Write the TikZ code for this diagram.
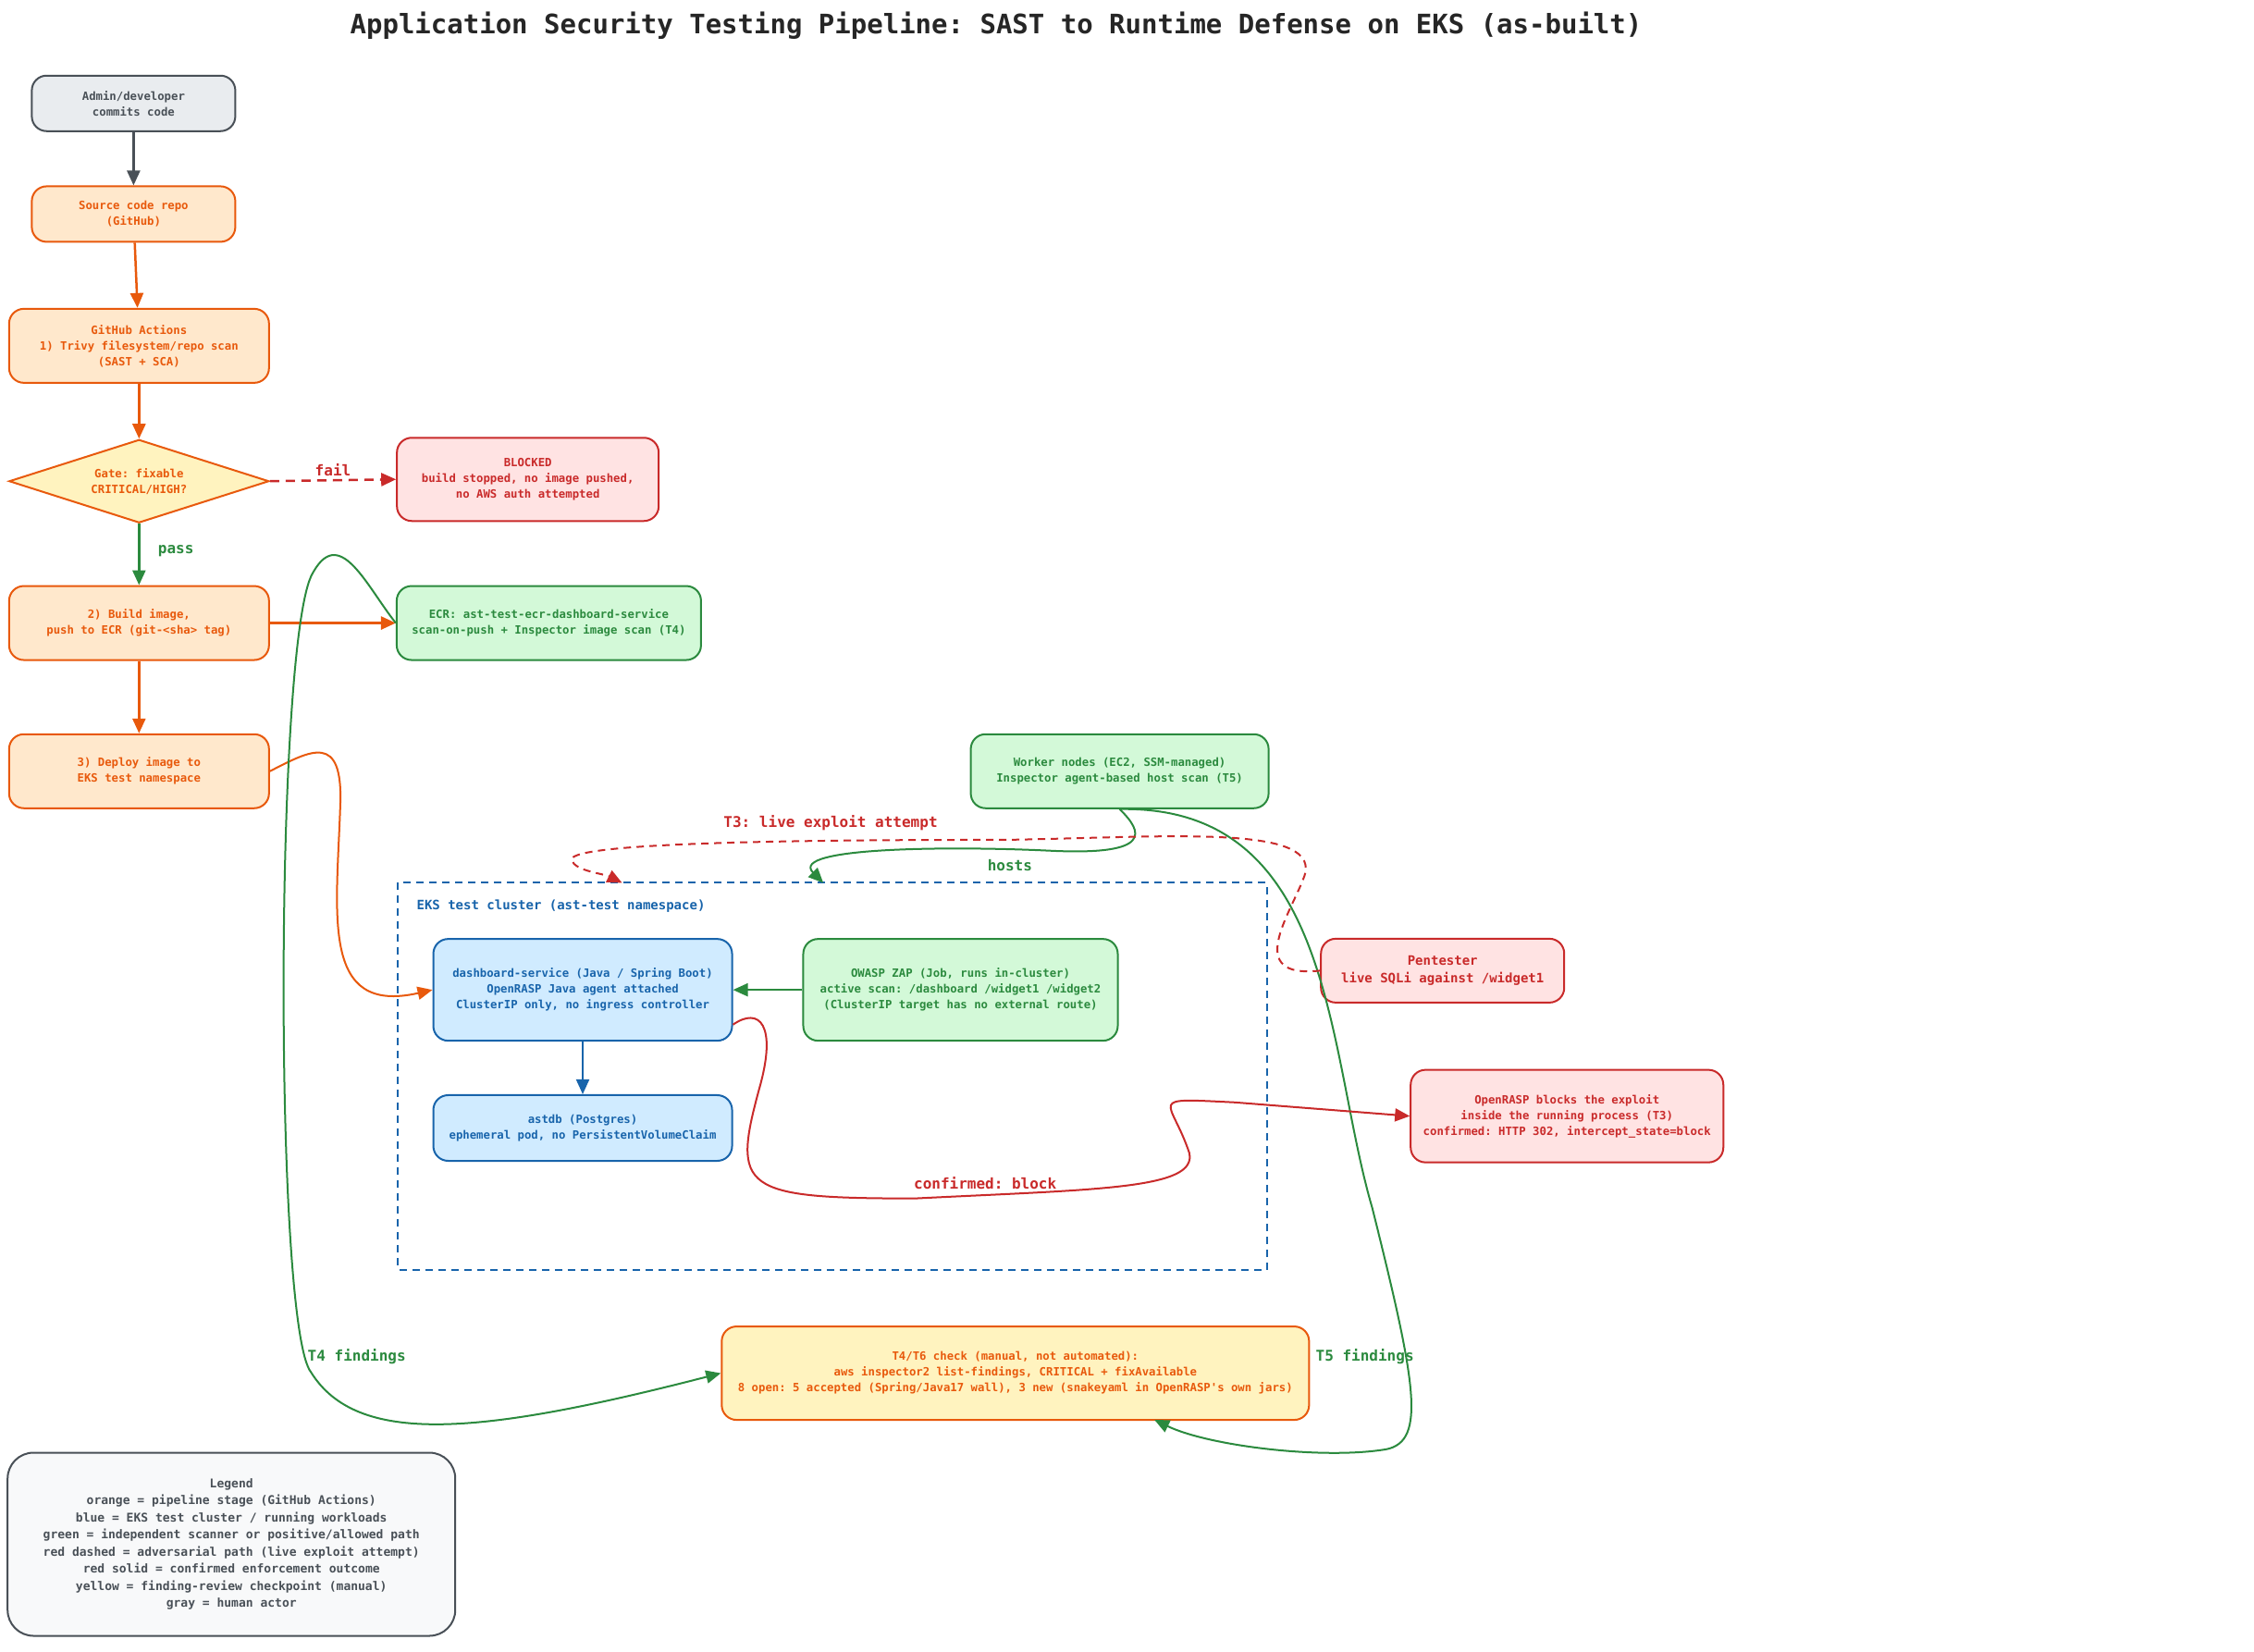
\documentclass[tikz,border=0pt]{standalone}
\usepackage{fontspec}
\setmonofont{DejaVu Sans Mono}
\usetikzlibrary{arrows.meta,shapes.geometric}
\definecolor{oS}{HTML}{E8590C}\definecolor{oF}{HTML}{FFE8CC}
\definecolor{gS}{HTML}{495057}\definecolor{gF}{HTML}{E9ECEF}
\definecolor{rS}{HTML}{C92A2A}\definecolor{rF}{HTML}{FFE3E3}
\definecolor{nS}{HTML}{2B8A3E}\definecolor{nF}{HTML}{D3F9D8}
\definecolor{bS}{HTML}{1864AB}\definecolor{bF}{HTML}{D0EBFF}
\definecolor{yF}{HTML}{FFF3BF}\definecolor{lF}{HTML}{F8F9FA}
\begin{document}
\begin{tikzpicture}[x=0.989pt,y=-0.989pt,
 box/.style={draw,line width=2pt,rounded corners=16pt,align=center,inner sep=2pt,
   font=\ttfamily\bfseries\fontsize{12.3}{17}\selectfont},
 org/.style={box,draw=oS,fill=oF,text=oS},
 gry/.style={box,draw=gS,fill=gF,text=gS},
 red/.style={box,draw=rS,fill=rF,text=rS},
 grn/.style={box,draw=nS,fill=nF,text=nS},
 blu/.style={box,draw=bS,fill=bF,text=bS},
 arr/.style={line width=2.5pt,-{Triangle[length=16pt,width=14pt]}},
 carr/.style={line width=2pt,-{Triangle[length=16pt,width=14pt]}},
 lbl/.style={font=\ttfamily\bfseries\fontsize{16}{18}\selectfont}]
\useasboundingbox[fill=white] (0,0) rectangle (2464,1805);
\node[font=\ttfamily\bfseries\fontsize{29}{32}\selectfont,text=black!85] (title) at (1089,28) {Application Security Testing Pipeline: SAST to Runtime Defense on EKS (as-built)};

\node[gry,minimum width=220pt,minimum height=60pt] (admin) at (146,113) {Admin/developer\\commits code};
\node[org,minimum width=220pt,minimum height=60pt] (src) at (146,234) {Source code repo\\(GitHub)};
\node[org,minimum width=281pt,minimum height=80pt] (gha) at (152,378) {GitHub Actions\\1) Trivy filesystem/repo scan\\(SAST + SCA)};
\node[draw=oS,fill=yF,text=oS,line width=2pt,diamond,aspect=3.1,minimum width=281pt,minimum height=90pt,inner sep=0pt,align=center,font=\ttfamily\bfseries\fontsize{12.3}{17}\selectfont] (gate) at (152,526) {Gate: fixable\\CRITICAL/HIGH?};
\node[red,minimum width=283pt,minimum height=90pt] (blk) at (577,524) {BLOCKED\\build stopped, no image pushed,\\no AWS auth attempted};
\node[org,minimum width=281pt,minimum height=80pt] (build) at (152,681) {2) Build image,\\push to ECR (git-<sha> tag)};
\node[grn,minimum width=329pt,minimum height=80pt] (ecr) at (600,681) {ECR: ast-test-ecr-dashboard-service\\scan-on-push + Inspector image scan (T4)};
\node[org,minimum width=281pt,minimum height=80pt] (dep) at (152,843) {3) Deploy image to\\EKS test namespace};
\node[grn,minimum width=322pt,minimum height=80pt] (wrk) at (1224,843) {Worker nodes (EC2, SSM-managed)\\Inspector agent-based host scan (T5)};

\draw[bS,line width=2pt,dash pattern=on 8pt off 6pt] (435,965) rectangle (1385,1388);
\node[coordinate] (cl1) at (680,965) {};
\node[coordinate] (cl2) at (900,965) {};
\node[anchor=west,text=bS,font=\ttfamily\bfseries\fontsize{14}{16}\selectfont] (cllbl) at (452,990) {EKS test cluster (ast-test namespace)};

\node[blu,minimum width=323pt,minimum height=110pt] (dash) at (637,1082) {dashboard-service (Java / Spring Boot)\\OpenRASP Java agent attached\\ClusterIP only, no ingress controller};
\node[grn,minimum width=340pt,minimum height=110pt] (zap) at (1050,1082) {OWASP ZAP (Job, runs in-cluster)\\active scan: /dashboard /widget1 /widget2\\(ClusterIP target has no external route)};
\node[blu,minimum width=323pt,minimum height=71pt] (db) at (637,1233) {astdb (Postgres)\\ephemeral pod, no PersistentVolumeClaim};
\node[red,minimum width=263pt,minimum height=69pt,font=\ttfamily\bfseries\fontsize{14}{19}\selectfont] (pen) at (1577,1061) {Pentester\\live SQLi against /widget1};
\node[red,minimum width=338pt,minimum height=100pt] (rasp) at (1713,1220) {OpenRASP blocks the exploit\\inside the running process (T3)\\confirmed: HTTP 302, intercept\_state=block};
\node[box,draw=oS,fill=yF,text=oS,minimum width=635pt,minimum height=101pt] (chk) at (1110,1501) {T4/T6 check (manual, not automated):\\aws inspector2 list-findings, CRITICAL + fixAvailable\\8 open: 5 accepted (Spring/Java17 wall), 3 new (snakeyaml in OpenRASP's own jars)};
\node[box,draw=gS,fill=lF,text=gS,minimum width=484pt,minimum height=198pt,rounded corners=28pt,font=\ttfamily\bfseries\fontsize{13}{18.5}\selectfont] (leg) at (253,1688) {Legend\\orange = pipeline stage (GitHub Actions)\\blue = EKS test cluster / running workloads\\green = independent scanner or positive/allowed path\\red dashed = adversarial path (live exploit attempt)\\red solid = confirmed enforcement outcome\\yellow = finding-review checkpoint (manual)\\gray = human actor};

\draw[arr,gS] (admin) -- (src);
\draw[arr,oS] (src) -- (gha);
\draw[arr,oS] (gha) -- (gate);
\draw[arr,rS,dash pattern=on 10pt off 7pt] (gate.east) -- node[above,lbl,text=rS]{fail} (blk.west);
\draw[arr,nS] (gate.south) -- node[right,lbl,pos=0.45,xshift=16pt]{pass} (build.north);
\draw[arr,oS] (build) -- (ecr);
\draw[arr,oS] (build) -- (dep);
\draw[carr,oS] (dep.east) .. controls (340,820) and (375,800) .. (372,880) .. controls (368,1000) and (350,1110) .. (dash.west);
\draw[carr,nS] (zap) -- (dash);
\draw[carr,bS] (dash) -- (db);
% T4 findings
\draw[carr,nS] (ecr.west) .. controls (400,640) and (370,570) .. (340,630) .. controls (300,720) and (300,1450) .. (340,1500) .. controls (390,1580) and (520,1570) .. (chk.west);
\node[lbl,text=nS] (t4l) at (390,1483) {T4 findings};
% T5 findings
\draw[carr,nS] (wrk.south) .. controls (1460,880) and (1450,1150) .. (1500,1320) .. controls (1550,1520) and (1560,1580) .. (1510,1585) .. controls (1440,1595) and (1320,1580) .. (1262,1552);
\node[lbl,text=nS] (t5l) at (1492,1483) {T5 findings};
% hosts
\draw[carr,nS] (wrk.south) .. controls (1250,910) and (1260,935) .. (1150,930) .. controls (1050,925) and (860,925) .. (cl2);
\node[lbl,text=nS] (hl) at (1104,946) {hosts};
% T3
\draw[carr,rS,dash pattern=on 8pt off 6pt] (pen.west) .. controls (1360,1070) and (1410,1000) .. (1425,960) .. controls (1450,900) and (1280,915) .. (1100,918) .. controls (900,918) and (620,920) .. (625,940) .. controls (628,952) and (660,955) .. (cl1);
\node[lbl,text=rS] (t3l) at (908,900) {T3: live exploit attempt};
% confirmed block
\draw[carr,rS] (dash.east)++(0,38) .. controls (830,1100) and (850,1120) .. (830,1190) .. controls (800,1300) and (810,1310) .. (1000,1310) .. controls (1200,1300) and (1310,1300) .. (1300,1260) .. controls (1280,1200) and (1250,1200) .. (1350,1205) -- (rasp.west);
\node[lbl,text=rS] (cbl) at (1077,1293) {confirmed: block};
\end{tikzpicture}
\end{document}
